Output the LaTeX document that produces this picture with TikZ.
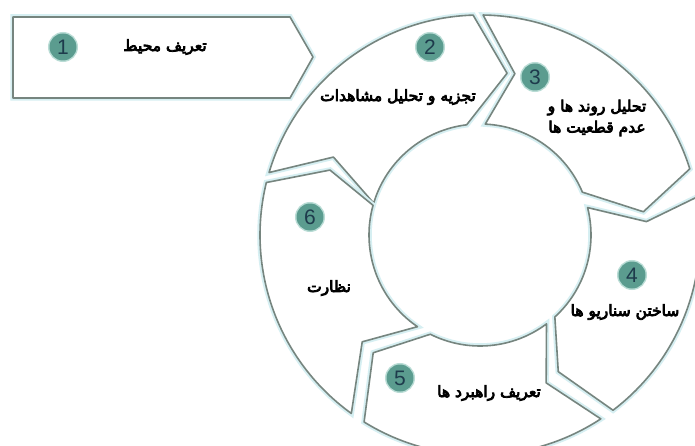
\documentclass[tikz,border=0pt]{standalone}
\usepackage{fontspec}
\newfontfamily\fa[Script=Arabic,FakeBold=5]{DejaVu Sans}
\newfontfamily\numfont{Liberation Sans}
\TeXXeTstate=1
\definecolor{ringgray}{HTML}{76857F}
\definecolor{halo}{HTML}{D6EFF2}
\definecolor{dotteal}{HTML}{5B9C8F}
\definecolor{dotglow}{HTML}{B9DCD5}
\definecolor{numink}{HTML}{1E3B4C}
\tikzset{
 ringline/.style={draw=ringgray, line width=1.6pt, line join=round, fill=white, preaction={draw=halo, line width=5.5pt}},
 numdot/.style={circle, fill=dotteal, minimum size=27pt, inner sep=0pt, font=\numfont\fontsize{21}{21}\selectfont, text=numink, preaction={draw=dotglow, line width=3pt}},
 lbl/.style={font=\fa\fontsize{15.5}{21}\selectfont, align=center, text=black, inner sep=0pt},
}
\newcommand{\ringseg}[8]{\draw[ringline] (#1:220) arc[start angle=#1, end angle=#5, radius=220] -- (#6:#7) -- (#8:111) arc[start angle=#8, end angle=#4, radius=111] -- (#2:#3) -- cycle;}
\begin{document}
\begin{tikzpicture}[x=1pt,y=1pt]
\useasboundingbox (0,0) rectangle (695,445);
\clip (0,0) rectangle (695,445);
\fill[white] (0,0) rectangle (695,445);
% box 1
\draw[ringline] (13,428) -- (290,428) -- (313,388) -- (290,347) -- (13,347) -- cycle;
\begin{scope}[shift={(480,210)}]
 % segment 2
 \ringseg{163.5}{152}{166}{163.3}{91.8}{80.5}{164}{96.9}
 % segment 3
 \ringseg{89.2}{77.8}{165}{87.3}{17.5}{8.1}{165}{22.7}
 % segment 4
 \ringseg{9.9}{4.6}{167}{14.3}{-52.8}{-60.2}{157.5}{-47.6}
 % segment 5
 \ringseg{-56.7}{-65.9}{162}{-53.2}{-121.8}{-132.2}{159}{-116.6}
 % segment 6
 \ringseg{234.2}{222.2}{159}{235.7}{166.2}{156.6}{163.5}{164.5}
\end{scope}
% number dots
\node[numdot] (n1) at (63,398) {1};
\node[numdot] (n2) at (430,398) {2};
\node[numdot] (n3) at (535,368) {3};
\node[numdot] (n4) at (632,170) {4};
\node[numdot] (n5) at (400,67) {5};
\node[numdot] (n6) at (310,228) {6};
% labels
\node[lbl] (t1) at (165,398) {\beginR تعریف محیط\endR};
\node[lbl] (t2) at (398,348) {\beginR تجزیه و تحلیل مشاهدات\endR};
\node[lbl] (t3) at (597,327) {\beginR تحلیل روند ها و\endR\\\beginR عدم قطعیت ها\endR};
\node[lbl] (t4) at (625,133) {\beginR ساختن سناریو ها\endR};
\node[lbl] (t5) at (489,52) {\beginR تعریف راهبرد ها\endR};
\node[lbl] (t6) at (329,157) {\beginR نظارت\endR};
\end{tikzpicture}
\end{document}
